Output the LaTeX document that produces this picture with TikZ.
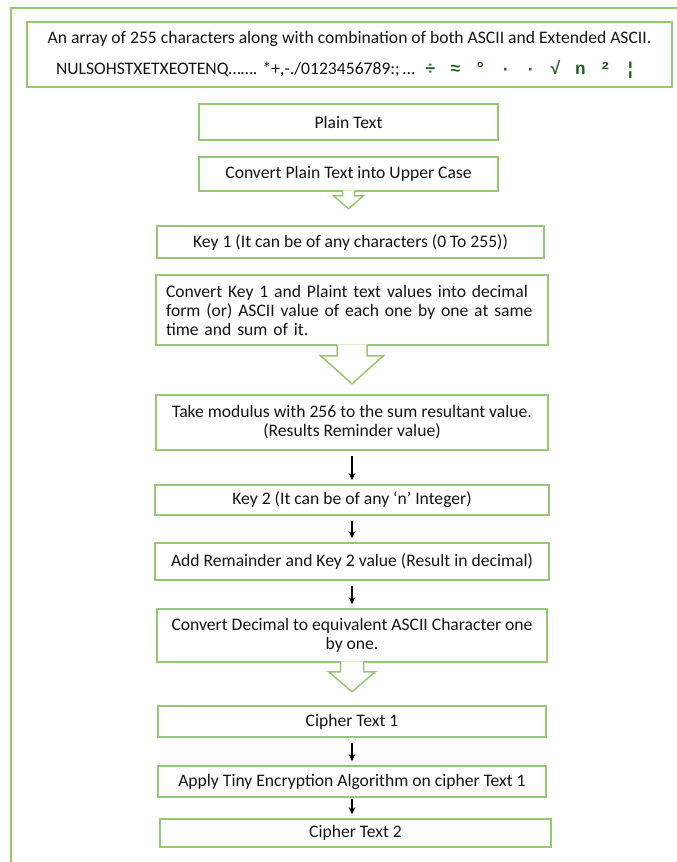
\documentclass[tikz,border=0pt]{standalone}
\usepackage{fontspec}
\setmainfont{Carlito}
\newfontfamily\symfont{Liberation Mono}
\usetikzlibrary{arrows.meta, calc}
\definecolor{boxgreen}{RGB}{150,200,115}
\definecolor{symgreen}{RGB}{35,95,35}
\definecolor{inkgray}{RGB}{20,20,20}
\newcommand{\gsym}[1]{\makebox[25pt]{#1}}
% hollow block arrow below a box: node, shaft half, wing half, shaft length, head length
\newcommand{\hollowarrow}[5]{%
    \fill[white] ($(#1.south)+(-#2,-1.5)$) -- ($(#1.south)+(-#2,#4)$) -- ($(#1.south)+(-#3,#4)$)
        -- ($(#1.south)+(0,{#4+#5})$) -- ($(#1.south)+(#3,#4)$) -- ($(#1.south)+(#2,#4)$)
        -- ($(#1.south)+(#2,-1.5)$) -- cycle;
    \draw[boxgreen, line width=1.5pt, line join=miter] ($(#1.south)+(-#2,-0.75)$) -- ($(#1.south)+(-#2,#4)$)
        -- ($(#1.south)+(-#3,#4)$) -- ($(#1.south)+(0,{#4+#5})$) -- ($(#1.south)+(#3,#4)$)
        -- ($(#1.south)+(#2,#4)$) -- ($(#1.south)+(#2,-0.75)$);}

\begin{document}
\begin{tikzpicture}[x=1pt, y=-1pt,
        stepbox/.style={draw=boxgreen, line width=1.5pt, inner sep=0pt, text=inkgray,
            font=\fontsize{17.6}{19}\selectfont, align=center},
        flow/.style={-{Stealth[length=7pt, width=6.5pt]}, line width=1.2pt, shorten <=5pt, shorten >=4pt}]
        \useasboundingbox (0,0) rectangle (677,862);

        % outer frame
        \draw[boxgreen, line width=1.2pt] (11,862) -- (11,8) -- (677,8);

        \node[stepbox, minimum width=645, minimum height=65] (pool) at (349.5,54.5)
            {An array of 255 characters along with combination of both ASCII and Extended ASCII.\\[12pt]
             NULSOHSTXETXEOTENQ……. *+,-./0123456789:;\,…\,{\color{symgreen}\symfont\bfseries
             \gsym{÷}\gsym{≈}\gsym{°}\gsym{·}\gsym{·}\gsym{√}\gsym{n}\gsym{²}\gsym{¦}}};

        \node[stepbox, minimum width=299, minimum height=36] (plain) at (348.5,122) {Plain Text};
        \node[stepbox, minimum width=299, minimum height=34] (upper) at (348.5,174) {Convert Plain Text into Upper Case};
        \node[stepbox, minimum width=387, minimum height=32] (key1) at (350.5,242) {Key 1 (It can be of any characters (0 To 255))};
        \node[stepbox, minimum width=392, minimum height=70, text width=372, align=left] (sum) at (352,310)
            {Convert Key 1 and Plaint text values into decimal\\form (or) ASCII value of each one by one at same\\time and sum of it.};
        \node[stepbox, minimum width=392, minimum height=55] (mod) at (352,422.5)
            {Take modulus with 256 to the sum resultant value.\\(Results Reminder value)};
        \node[stepbox, minimum width=394, minimum height=30] (key2) at (352,500) {Key 2 (It can be of any ‘n’ Integer)};
        \node[stepbox, minimum width=394, minimum height=37] (add) at (352,561.5) {Add Remainder and Key 2 value (Result in decimal)};
        \node[stepbox, minimum width=390, minimum height=53] (dec) at (352,635.5)
            {Convert Decimal to equivalent ASCII Character one\\by one.};
        \node[stepbox, minimum width=388, minimum height=31] (cipher1) at (352,721.5) {Cipher Text 1};
        \node[stepbox, minimum width=388, minimum height=31] (tea) at (352,781.5) {Apply Tiny Encryption Algorithm on cipher Text 1};
        \node[stepbox, minimum width=391, minimum height=28] (cipher2) at (355.5,833) {Cipher Text 2};

        % block arrows
        \hollowarrow{upper}{6}{15}{4}{13}
        \hollowarrow{sum}{15}{31.5}{10}{28}
        \hollowarrow{dec}{11.5}{23.5}{9}{20}

        % plain arrows
        \draw[flow] (mod.south) -- (mod.south |- key2.north);
        \draw[flow] (key2.south) -- (key2.south |- add.north);
        \draw[flow] (add.south) -- (add.south |- dec.north);
        \draw[flow] (cipher1.south) -- (cipher1.south |- tea.north);
        \draw[flow, shorten <=1pt] (tea.south) -- (tea.south |- cipher2.north);
    \end{tikzpicture}
\end{document}
